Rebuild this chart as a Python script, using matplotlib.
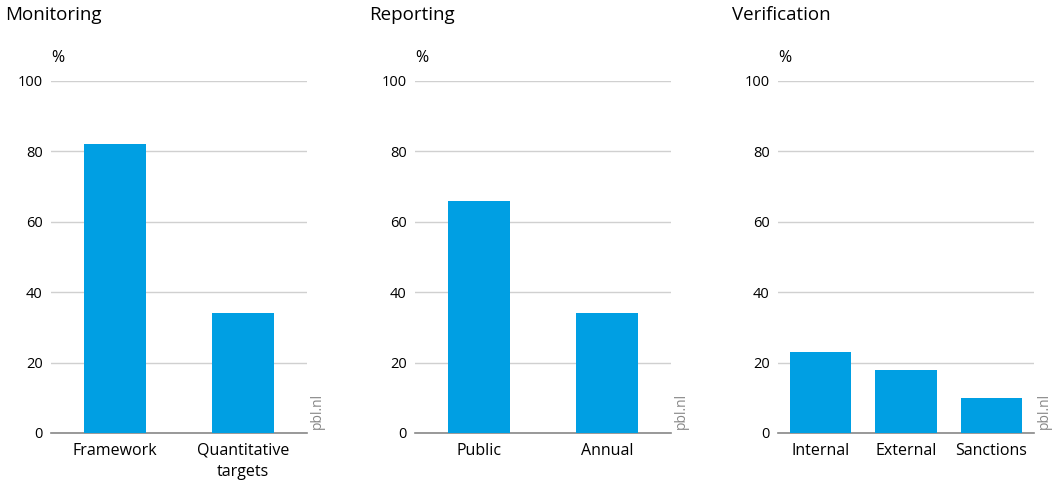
import matplotlib
matplotlib.use("Agg")
import matplotlib.pyplot as plt

plt.rcParams['font.family'] = ['Open Sans', 'DejaVu Sans']

# data per panel
titles = ["Monitoring", "Reporting", "Verification"]
cats_mon = ["Framework", "Quantitative\ntargets"]
vals_mon = [82, 34]
cats_rep = ["Public", "Annual"]
vals_rep = [66, 34]
cats_ver = ["Internal", "External", "Sanctions"]
vals_ver = [23, 18, 10]
yticks = [0, 20, 40, 60, 80, 100]

panels = [(cats_mon, vals_mon), (cats_rep, vals_rep), (cats_ver, vals_ver)]
lefts = [51, 415, 778]  # pixel positions of each plot area

W, H = 1062, 483
fig = plt.figure(figsize=(W / 100, H / 100), dpi=100)
bar_color = "#009fe3"

for k, (cats, vals) in enumerate(panels):
    ax = fig.add_axes([lefts[k] / W, 1 - 433 / H, 256 / W, 352 / H])
    n = len(cats)
    width = 0.24 * n  # keeps the bar width equal in pixels
    ax.bar(range(n), vals, width=width, color=bar_color, zorder=3)
    ax.set_xlim(-0.5, n - 0.5)
    ax.set_ylim(0, 100)
    ax.set_yticks(yticks)
    ax.set_yticklabels([str(t) for t in yticks], fontsize=10.5)
    ax.set_xticks(range(n))
    ax.set_xticklabels(cats, fontsize=11.5, linespacing=1.45)
    ax.tick_params(axis='y', length=0, pad=6)
    ax.tick_params(axis='x', length=0, pad=7)
    for s in ['top', 'right', 'left']:
        ax.spines[s].set_visible(False)
    ax.spines['bottom'].set_color('#888888')
    ax.spines['bottom'].set_linewidth(1.2)
    ax.grid(axis='y', color='#d0d0d0', linewidth=1, zorder=0)
    ax.set_axisbelow(True)
    ax.text(0.0, 1.065, "%", transform=ax.transAxes, fontsize=11.5,
            ha='left', va='center')
    fig.text((lefts[k] - 46) / W, 1 - 15 / H, titles[k], fontsize=13.5,
             ha='left', va='center')
    ax.text(1.04, 0.01, "pbl.nl", transform=ax.transAxes, rotation=90,
            fontsize=10, color='#888888', ha='center', va='bottom')

fig.savefig("out.png", dpi=100)
